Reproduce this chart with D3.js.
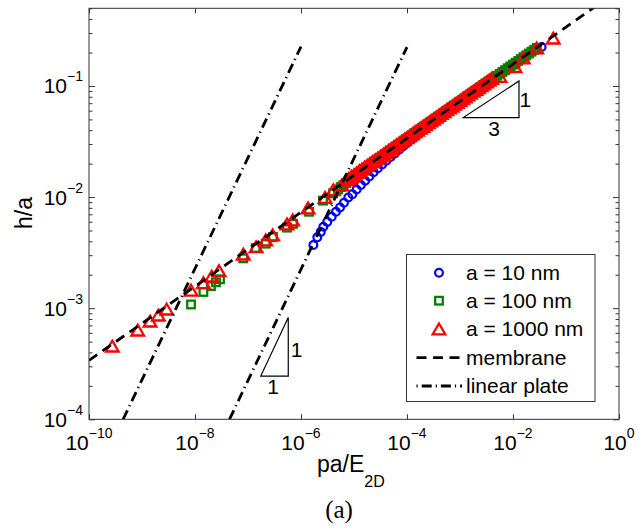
<!DOCTYPE html>
<html>
<head>
<meta charset="utf-8">
<script src="https://cdn.jsdelivr.net/npm/d3@7"></script>
<style>
  body { margin: 0; background: #fff; }
  svg text { font-family: "Liberation Sans", Arial, sans-serif; fill: #000; }
</style>
</head>
<body>
<svg id="chart" width="639" height="530"></svg>
<script>
// ---- data: [pa/E2D, h/a] for each radius ----
const seriesA10 = [
  [1.71e-6, 3.70e-3], [2.03e-6, 4.34e-3], [2.36e-6, 4.86e-3], [2.64e-6, 5.40e-3],
  [3.13e-6, 5.98e-3], [3.79e-6, 6.65e-3], [4.57e-6, 7.38e-3], [5.45e-6, 8.07e-3],
  [6.47e-6, 8.89e-3], [7.80e-6, 9.93e-3], [9.33e-6, 1.063e-2], [1.12e-5, 1.170e-2],
  [1.35e-5, 1.282e-2], [1.62e-5, 1.402e-2], [1.95e-5, 1.532e-2], [2.34e-5, 1.671e-2],
  [2.82e-5, 1.814e-2], [3.39e-5, 1.965e-2], [4.07e-5, 2.123e-2], [4.90e-5, 2.294e-2],
  [5.89e-5, 2.472e-2], [7.08e-5, 2.667e-2], [8.51e-5, 2.869e-2], [1.02e-4, 3.086e-2],
  [1.23e-4, 3.311e-2], [1.48e-4, 3.553e-2], [1.78e-4, 3.813e-2], [2.14e-4, 4.083e-2],
  [2.57e-4, 4.371e-2], [3.09e-4, 4.680e-2], [3.72e-4, 5.000e-2], [4.47e-4, 5.340e-2],
  [5.37e-4, 5.703e-2], [6.46e-4, 6.095e-2], [7.76e-4, 6.510e-2], [9.33e-4, 6.938e-2],
  [1.12e-3, 7.413e-2], [1.35e-3, 7.896e-2], [1.62e-3, 8.400e-2], [1.95e-3, 8.954e-2],
  [2.34e-3, 9.519e-2], [2.82e-3, 0.1015], [3.39e-3, 0.1079], [4.07e-3, 0.1150],
  [4.90e-3, 0.1223], [5.89e-3, 0.1300], [7.94e-3, 0.1440], [1.12e-2, 0.1616],
  [1.58e-2, 0.1813], [2.24e-2, 0.2034], [3.47e-2, 0.2244]
];

const seriesA100 = [
  [8.41e-9, 1.08e-3], [1.44e-8, 1.40e-3], [2.00e-8, 1.58e-3], [2.49e-8, 1.71e-3],
  [2.96e-8, 1.82e-3], [8.15e-8, 2.81e-3], [1.40e-7, 3.48e-3], [2.16e-7, 3.81e-3],
  [2.96e-7, 4.37e-3], [5.45e-7, 5.31e-3], [7.06e-7, 5.74e-3], [1.42e-6, 7.38e-3],
  [2.60e-6, 9.29e-3], [4.02e-6, 1.08e-2],
  [5.01e-6, 0.0117], [5.62e-6, 0.0123], [6.31e-6, 0.0128], [7.08e-6, 0.0134],
  [7.94e-6, 0.0139], [8.91e-6, 0.0145], [1.00e-5, 0.0151], [1.12e-5, 0.0158],
  [1.26e-5, 0.0164], [1.41e-5, 0.0171], [1.58e-5, 0.0178], [1.78e-5, 0.0185],
  [2.00e-5, 0.0193], [2.24e-5, 0.0201], [2.51e-5, 0.0209], [2.82e-5, 0.0217],
  [3.16e-5, 0.0226], [3.55e-5, 0.0235], [3.98e-5, 0.0244], [4.47e-5, 0.0254],
  [5.01e-5, 0.0264], [5.62e-5, 0.0275], [6.31e-5, 0.0286], [7.08e-5, 0.0297],
  [7.94e-5, 0.0309], [8.91e-5, 0.0322], [1.00e-4, 0.0335], [1.12e-4, 0.0348],
  [1.26e-4, 0.0362], [1.41e-4, 0.0376], [1.58e-4, 0.0391], [1.78e-4, 0.0406],
  [2.00e-4, 0.0422], [2.24e-4, 0.0439], [2.51e-4, 0.0456], [2.82e-4, 0.0474],
  [3.16e-4, 0.0492], [3.55e-4, 0.0512], [3.98e-4, 0.0532], [4.47e-4, 0.0552],
  [5.01e-4, 0.0574], [5.62e-4, 0.0597], [6.31e-4, 0.0620], [7.08e-4, 0.0644],
  [7.94e-4, 0.0669], [8.91e-4, 0.0695], [1.00e-3, 0.0723], [1.12e-3, 0.0751],
  [1.26e-3, 0.0780], [1.41e-3, 0.0811], [1.58e-3, 0.0843], [1.78e-3, 0.0876],
  [2.00e-3, 0.0910], [2.24e-3, 0.0945], [2.51e-3, 0.0982], [2.82e-3, 0.1021],
  [3.16e-3, 0.1061], [3.55e-3, 0.1102], [3.98e-3, 0.1145], [4.47e-3, 0.1190],
  [5.01e-3, 0.1237], [5.62e-3, 0.1285], [6.31e-3, 0.1335], [7.08e-3, 0.1388],
  [7.94e-3, 0.1442], [8.91e-3, 0.1498], [1.00e-2, 0.1557], [1.12e-2, 0.1618],
  [1.26e-2, 0.1681], [1.41e-2, 0.1747], [1.58e-2, 0.1815], [1.78e-2, 0.1886],
  [2.00e-2, 0.1960], [2.24e-2, 0.2037], [2.51e-2, 0.2117], [2.82e-2, 0.2199]
];

const seriesA1000 = [
  [2.75e-10, 4.55e-4], [8.30e-10, 6.34e-4], [1.42e-9, 7.64e-4], [2.03e-9, 8.65e-4],
  [2.92e-9, 9.79e-4], [8.41e-9, 1.45e-3], [1.44e-8, 1.69e-3], [2.07e-8, 1.94e-3],
  [2.84e-8, 2.17e-3], [8.15e-8, 3.06e-3], [1.42e-7, 3.56e-3], [2.16e-7, 4.10e-3],
  [2.92e-7, 4.55e-3], [5.45e-7, 5.71e-3], [6.97e-7, 6.21e-3], [1.36e-6, 7.96e-3],
  [2.84e-6, 9.89e-3], [4.06e-6, 1.16e-2], [5.86e-6, 1.28e-2],
  [7.08e-6, 0.0142], [7.94e-6, 0.0147], [8.91e-6, 0.0153], [1.00e-5, 0.0159],
  [1.12e-5, 0.0165], [1.26e-5, 0.0172], [1.41e-5, 0.0178], [1.58e-5, 0.0185],
  [1.78e-5, 0.0192], [2.00e-5, 0.0200], [2.24e-5, 0.0208], [2.51e-5, 0.0216],
  [2.82e-5, 0.0224], [3.16e-5, 0.0233], [3.55e-5, 0.0242], [3.98e-5, 0.0252],
  [4.47e-5, 0.0262], [5.01e-5, 0.0272], [5.62e-5, 0.0282], [6.31e-5, 0.0294],
  [7.08e-5, 0.0305], [7.94e-5, 0.0317], [8.91e-5, 0.0329], [1.00e-4, 0.0342],
  [1.12e-4, 0.0356], [1.26e-4, 0.0370], [1.41e-4, 0.0384], [1.58e-4, 0.0399],
  [1.78e-4, 0.0415], [2.00e-4, 0.0431], [2.24e-4, 0.0448], [2.51e-4, 0.0465],
  [2.82e-4, 0.0483], [3.16e-4, 0.0502], [3.55e-4, 0.0522], [3.98e-4, 0.0542],
  [4.47e-4, 0.0564], [5.01e-4, 0.0586], [5.62e-4, 0.0609], [6.31e-4, 0.0632],
  [7.08e-4, 0.0657], [7.94e-4, 0.0683], [8.91e-4, 0.0710], [1.00e-3, 0.0737],
  [1.12e-3, 0.0766], [1.26e-3, 0.0796], [1.41e-3, 0.0827], [1.58e-3, 0.0860],
  [1.78e-3, 0.0893], [2.00e-3, 0.0928], [2.24e-3, 0.0965], [2.51e-3, 0.1002],
  [2.82e-3, 0.1041], [3.16e-3, 0.1082], [3.55e-3, 0.1125], [3.98e-3, 0.1169],
  [5.69e-3, 0.1213], [1.09e-2, 0.149], [1.56e-2, 0.178], [2.80e-2, 0.219],
  [5.75e-2, 0.269]
];

// reference lines (end points)
const membraneLine = [[1e-10, 3.39e-4], [1, 0.73]];
const plateLineA = [[4.4e-10, 1e-4], [1e-6, 0.226]];
const plateLineB = [[4.47e-8, 1e-4], [1e-4, 0.224]];

// slope markers (corner points)
const slopeOne = [[1.74e-7, 2.45e-4], [5.75e-7, 2.45e-4], [5.75e-7, 8.24e-4]];
const slopeThird = [[1.154e-3, 5.19e-2], [1.297e-2, 5.19e-2], [1.297e-2, 0.1109]];

// axes
const xTicks = [1e-10, 1e-8, 1e-6, 1e-4, 1e-2, 1];
const xTickExp = ["\u221210", "\u22128", "\u22126", "\u22124", "\u22122", "0"];
const yTicks = [1e-4, 1e-3, 1e-2, 1e-1];
const yTickExp = ["\u22124", "\u22123", "\u22122", "\u22121"];

const legendLabels = ["a = 10 nm", "a = 100 nm", "a = 1000 nm", "membrane", "linear plate"];

// ---- drawing ----
const L = 89, R = 619, T = 8.3, B = 419.3;
const axisColor = "#333";
const x = d3.scaleLog().domain([1e-10, 1]).range([L, R]);
const y = d3.scaleLog().domain([1e-4, 0.5]).range([B, T]);

const svg = d3.select("#chart");
svg.append("rect").attr("width", 639).attr("height", 530).attr("fill", "#fff");

svg.append("clipPath").attr("id", "plotClip")
  .append("rect").attr("x", L).attr("y", T).attr("width", R - L).attr("height", B - T);

const blue = "#0000ff", green = "#008000", red = "#ff0000";

// marker shapes
const triPath = "M0,-5.5L6.3,5.3L-6.3,5.3Z";
function circleAt(g, cx, cy) {
  return g.append("circle").attr("cx", cx).attr("cy", cy).attr("r", 3.9)
    .attr("fill", "none").attr("stroke", blue).attr("stroke-width", 2.2);
}
function squareAt(g, cx, cy) {
  return g.append("rect").attr("x", cx - 3.8).attr("y", cy - 3.8)
    .attr("width", 7.6).attr("height", 7.6)
    .attr("fill", "none").attr("stroke", green).attr("stroke-width", 2.3);
}
function triangleAt(g, cx, cy) {
  return g.append("path").attr("d", triPath)
    .attr("transform", `translate(${cx},${cy})`)
    .attr("fill", "none").attr("stroke", red).attr("stroke-width", 2.3)
    .attr("stroke-linejoin", "miter");
}

const plot = svg.append("g").attr("clip-path", "url(#plotClip)");
const gBlue = plot.append("g"), gGreen = plot.append("g"), gRed = plot.append("g");
seriesA10.forEach(d => circleAt(gBlue, x(d[0]), y(d[1])));
seriesA100.forEach(d => squareAt(gGreen, x(d[0]), y(d[1])));
seriesA1000.forEach(d => triangleAt(gRed, x(d[0]), y(d[1])));

const line = d3.line().x(d => x(d[0])).y(d => y(d[1]));
const dashMembrane = "10,6.5";
const dashPlate = "10,4.5,1.2,4.5";
plot.append("path").attr("d", line(membraneLine))
  .attr("fill", "none").attr("stroke", "#000").attr("stroke-width", 2.8)
  .attr("stroke-dasharray", dashMembrane);
[plateLineA, plateLineB].forEach(pl => {
  plot.append("path").attr("d", line(pl))
    .attr("fill", "none").attr("stroke", "#000").attr("stroke-width", 2.8)
    .attr("stroke-dasharray", dashPlate);
});

// slope triangles
const closed = d3.line().x(d => x(d[0])).y(d => y(d[1])).curve(d3.curveLinearClosed);
[slopeOne, slopeThird].forEach(tri => {
  svg.append("path").attr("d", closed(tri))
    .attr("fill", "none").attr("stroke", "#000").attr("stroke-width", 1.2);
});
function slopeLabel(tri, rise, run, riseDx, riseDy, runDx, runDy) {
  const xr = x(tri[1][0]);
  const midY = (y(tri[1][1]) + y(tri[2][1])) / 2;
  svg.append("text").attr("x", xr + riseDx).attr("y", midY + riseDy)
    .attr("font-size", 21).text(rise);
  const midX = (x(tri[0][0]) + x(tri[1][0])) / 2;
  svg.append("text").attr("x", midX + runDx).attr("y", y(tri[0][1]) + runDy)
    .attr("text-anchor", "middle").attr("font-size", 21).text(run);
}
slopeLabel(slopeOne, "1", "1", 2.5, 10, -1.5, 17.5);
slopeLabel(slopeThird, "1", "3", 0.5, 7.5, 3, 18.5);

// axes: ticks on all four sides, pointing inward
function tidy(g) {
  g.select(".domain").remove();
  g.selectAll(".tick line").attr("stroke", axisColor).attr("stroke-width", 1);
}
const yMinor = y.ticks().filter(v => !yTicks.some(t => Math.abs(t - v) / t < 1e-6));

svg.append("g").attr("transform", `translate(0,${B})`)
  .call(d3.axisBottom(x).tickValues(xTicks).tickSizeInner(-5).tickSizeOuter(0).tickFormat(() => ""))
  .call(tidy);
svg.append("g").attr("transform", `translate(0,${T})`)
  .call(d3.axisTop(x).tickValues(xTicks).tickSizeInner(-5).tickSizeOuter(0).tickFormat(() => ""))
  .call(tidy);
svg.append("g").attr("transform", `translate(${L},0)`)
  .call(d3.axisLeft(y).tickValues(yTicks).tickSizeInner(-6).tickSizeOuter(0).tickFormat(() => ""))
  .call(tidy);
svg.append("g").attr("transform", `translate(${L},0)`)
  .call(d3.axisLeft(y).tickValues(yMinor).tickSizeInner(-3.5).tickSizeOuter(0).tickFormat(() => ""))
  .call(tidy);
svg.append("g").attr("transform", `translate(${R},0)`)
  .call(d3.axisRight(y).tickValues(yTicks).tickSizeInner(-6).tickSizeOuter(0).tickFormat(() => ""))
  .call(tidy);
svg.append("g").attr("transform", `translate(${R},0)`)
  .call(d3.axisRight(y).tickValues(yMinor).tickSizeInner(-3.5).tickSizeOuter(0).tickFormat(() => ""))
  .call(tidy);

svg.append("rect").attr("x", L).attr("y", T).attr("width", R - L).attr("height", B - T)
  .attr("fill", "none").attr("stroke", axisColor).attr("stroke-width", 1);

// tick labels as 10^n
xTicks.forEach((v, i) => {
  const t = svg.append("text").attr("x", x(v)).attr("y", 450).attr("text-anchor", "middle");
  t.append("tspan").attr("font-size", 21).text("10");
  t.append("tspan").attr("font-size", 14).attr("dy", -12).text(xTickExp[i]);
});
yTicks.forEach((v, i) => {
  const t = svg.append("text").attr("x", 83).attr("y", y(v) + 7.5).attr("text-anchor", "end");
  t.append("tspan").attr("font-size", 21).text("10");
  t.append("tspan").attr("font-size", 14).attr("dy", -12).text(yTickExp[i]);
});

// axis titles
const xt = svg.append("text").attr("x", 317).attr("y", 472);
xt.append("tspan").attr("font-size", 23).text("pa/E");
xt.append("tspan").attr("font-size", 16).attr("dy", 14.5).text("2D");

svg.append("text").attr("transform", "translate(31.5,213) rotate(-90)")
  .attr("text-anchor", "middle").attr("font-size", 23).text("h/a");

svg.append("text").attr("x", 339).attr("y", 518).attr("text-anchor", "middle")
  .attr("font-size", 25).style("font-family", "'Liberation Serif', 'Times New Roman', serif")
  .text("(a)");

// legend
const lg = svg.append("g");
lg.append("rect").attr("x", 406.5).attr("y", 254.5).attr("width", 188.5).attr("height", 147)
  .attr("fill", "#fff").attr("stroke", axisColor).attr("stroke-width", 1);
const rowY = [272.7, 300.7, 329, 357.7, 386];
const mx = 439;
circleAt(lg, mx, rowY[0]);
squareAt(lg, mx, rowY[1]);
triangleAt(lg, mx, rowY[2]);
lg.append("line").attr("x1", 416.5).attr("x2", 462).attr("y1", rowY[3]).attr("y2", rowY[3])
  .attr("stroke", "#000").attr("stroke-width", 2.8).attr("stroke-dasharray", dashMembrane);
lg.append("line").attr("x1", 416.5).attr("x2", 462).attr("y1", rowY[4]).attr("y2", rowY[4])
  .attr("stroke", "#000").attr("stroke-width", 2.8).attr("stroke-dasharray", "1.2,4,10,4");
legendLabels.forEach((s, i) => {
  lg.append("text").attr("x", 466).attr("y", rowY[i] + 6.8).attr("font-size", 21).text(s);
});
</script>
</body>
</html>
